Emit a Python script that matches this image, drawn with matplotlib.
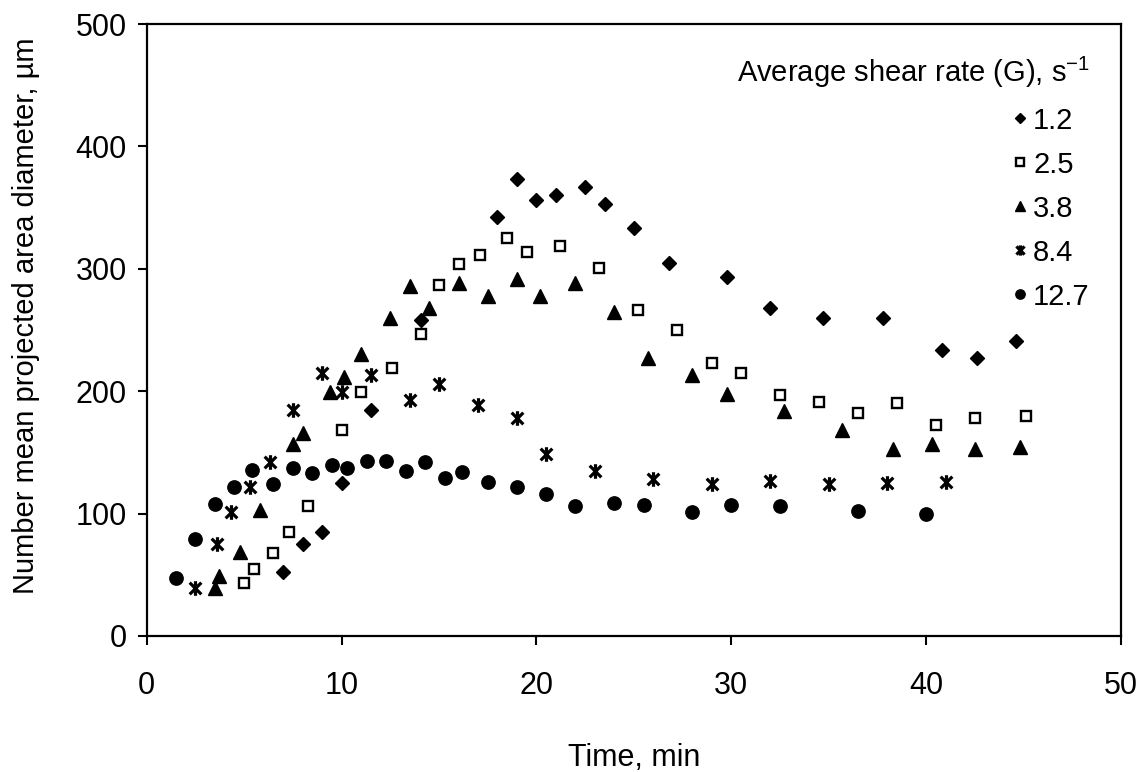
import numpy as np
import matplotlib
matplotlib.use('Agg')
import matplotlib.pyplot as plt
from matplotlib.path import Path

plt.rcParams['font.family'] = ['Liberation Sans', 'DejaVu Sans']

# average shear rate G = 1.2 s^-1
t_12 = [7.0, 8.0, 9.0, 10.0, 11.5, 14.1, 18.0, 19.0, 20.0, 21.0, 22.5, 23.5, 25.0,
        26.8, 29.8, 32.0, 34.7, 37.8, 40.8, 42.6, 44.6]
d_12 = [52, 75, 85, 125, 185, 258, 342, 373, 356, 360, 367, 353, 333,
        305, 293, 268, 260, 260, 234, 227, 241]

# G = 2.5
t_25 = [5.0, 5.5, 6.5, 7.3, 8.3, 10.0, 11.0, 12.6, 14.1, 15.0, 16.0, 17.1, 18.5, 19.5,
        21.2, 23.2, 25.2, 27.2, 29.0, 30.5, 32.5, 34.5, 36.5, 38.5, 40.5, 42.5, 45.1]
d_25 = [43, 55, 68, 85, 106, 168, 199, 219, 247, 287, 304, 311, 325, 314,
        319, 301, 266, 250, 223, 215, 197, 191, 182, 190, 172, 178, 180]

# G = 3.8
t_38 = [3.5, 3.7, 4.8, 5.8, 7.5, 8.0, 9.4, 10.1, 11.0, 12.5, 13.5, 14.5, 16.0, 17.5,
        19.0, 20.2, 22.0, 24.0, 25.7, 28.0, 29.8, 32.7, 35.7, 38.3, 40.3, 42.5, 44.8]
d_38 = [39, 49, 69, 103, 157, 166, 199, 212, 230, 260, 286, 268, 288, 278,
        292, 278, 288, 265, 227, 213, 198, 184, 168, 153, 157, 153, 154]

# G = 8.4
t_84 = [2.5, 3.6, 4.3, 5.3, 6.3, 7.5, 9.0, 10.0, 11.5, 13.5, 15.0, 17.0, 19.0, 20.5,
        23.0, 26.0, 29.0, 32.0, 35.0, 38.0, 41.0]
d_84 = [39, 75, 101, 122, 142, 185, 215, 199, 213, 193, 206, 189, 178, 149,
        135, 128, 124, 127, 124, 125, 126]

# G = 12.7
t_127 = [1.5, 2.5, 3.5, 4.5, 5.4, 6.5, 7.5, 8.5, 9.5, 10.3, 11.3, 12.3, 13.3, 14.3,
         15.3, 16.2, 17.5, 19.0, 20.5, 22.0, 24.0, 25.5, 28.0, 30.0, 32.5, 36.5, 40.0]
d_127 = [47, 79, 108, 122, 136, 124, 137, 133, 140, 137, 143, 143, 135, 142,
         129, 134, 126, 122, 116, 106, 109, 107, 101, 107, 106, 102, 100]

# asterisk marker: an x with a vertical bar through it
star = Path([(-1, -1), (1, 1), (-1, 1), (1, -1), (0, -1.25), (0, 1.25)],
            [Path.MOVETO, Path.LINETO, Path.MOVETO, Path.LINETO, Path.MOVETO, Path.LINETO])

fig = plt.figure(figsize=(11.42, 7.72), dpi=100)
ax = fig.add_axes([0.1285, 0.1762, 0.8531, 0.7927])

ax.plot(t_12, d_12, 'D', color='k', ms=7.4, ls='none', label='1.2')
ax.plot(t_25, d_25, 's', mfc='white', mec='k', mew=1.7, ms=7.8, ls='none', label='2.5')
ax.plot(t_38, d_38, '^', color='k', ms=9.6, ls='none', label='3.8')
ax.plot(t_84, d_84, marker=star, mfc='none', mec='k', mew=2.3, ms=10.5, ls='none', label='8.4')
ax.plot(t_127, d_127, 'o', color='k', ms=9.6, ls='none', label='12.7')

ax.set_xlim(0, 50)
ax.set_ylim(0, 500)
ax.set_xticks(np.arange(0, 51, 10))
ax.set_yticks(np.arange(0, 501, 100))
for s in ax.spines.values():
    s.set_linewidth(1.6)
ax.tick_params(axis='both', direction='out', length=6.5, width=1.5, labelsize=22)
ax.tick_params(axis='x', pad=19)
ax.tick_params(axis='y', pad=8)

ax.set_xlabel('Time, min', fontsize=22, labelpad=30)
ax.set_ylabel('Number mean projected area diameter, \u00b5m', fontsize=21)
ax.yaxis.set_label_coords(-0.11, 0.523)

leg = ax.legend(title='Average shear rate (G), s$^{\\mathregular{-1}}$', frameon=False,
                loc='upper right', bbox_to_anchor=(0.98, 0.968), fontsize=21,
                title_fontsize=21, markerscale=0.7, handlelength=0.6,
                handletextpad=0.15, labelspacing=0.55, borderaxespad=0)
leg._legend_box.align = 'right'

plt.savefig('out.png', dpi=100)
